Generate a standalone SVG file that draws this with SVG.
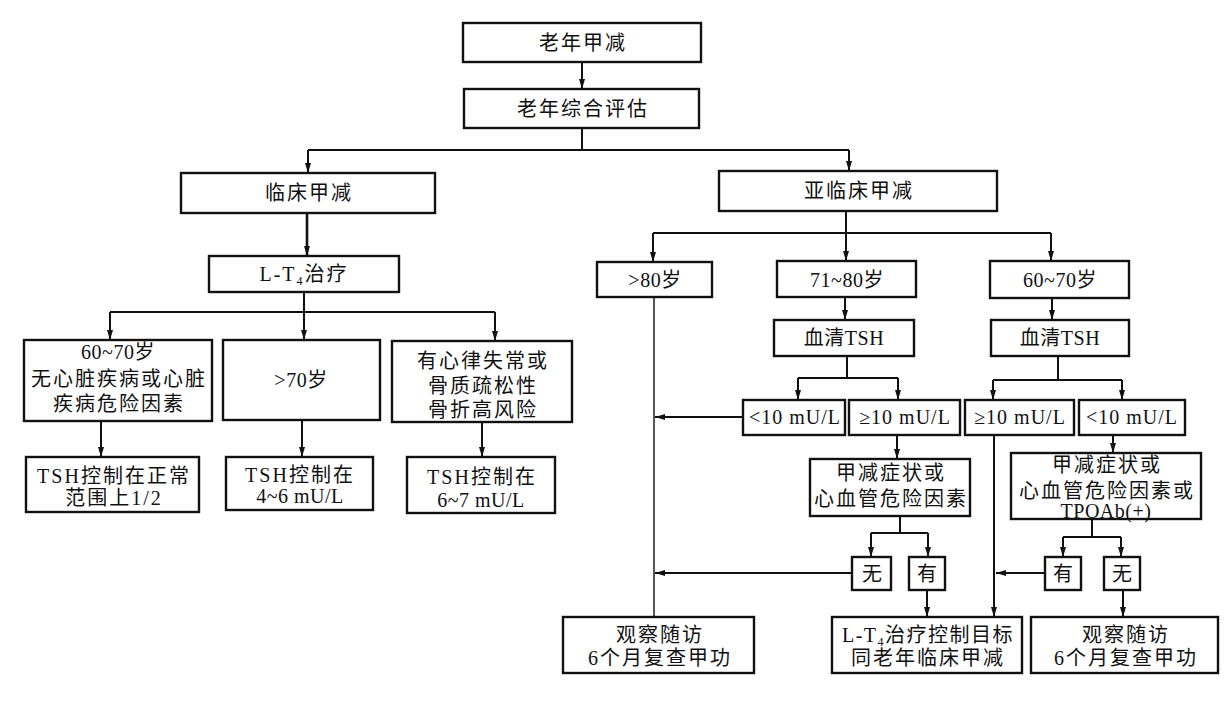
<svg xmlns="http://www.w3.org/2000/svg" width="1226" height="701" viewBox="0 0 1226 701">
<style>
.b{fill:#fff;stroke:#111;stroke-width:2.4}
.t{font-family:"Liberation Serif","Noto Sans CJK SC",serif;font-size:20px;letter-spacing:2px;text-anchor:middle;fill:#111}
.l{letter-spacing:0.5px}
.c{fill:none;stroke:#111;stroke-width:2}
.a{fill:none;stroke:#111;stroke-width:2;marker-end:url(#ah)}
.thin{fill:none;stroke:#111;stroke-width:1.4}
</style>
<defs>
<marker id="ah" markerUnits="userSpaceOnUse" markerWidth="10" markerHeight="6" refX="10" refY="3" orient="auto">
<path d="M0,0 L10,3 L0,6 z" fill="#111"/>
</marker>
</defs>
<rect width="1226" height="701" fill="#fff"/>
<g id="connectors">
<path class="a" d="M582,62 V89"/>
<path class="c" d="M582,128 V150 M308,150 H849"/>
<path class="a" d="M308,150 V173"/>
<path class="a" d="M849,150 V171"/>
<path class="a" d="M307,213 V256" style="stroke-width:2.6"/>
<path class="c" d="M304,292 V312 M110,312 H495"/>
<path class="a" d="M110,312 V340"/>
<path class="a" d="M304,312 V340"/>
<path class="a" d="M495,312 V341"/>
<path class="a" d="M101,421 V457"/>
<path class="a" d="M302,420 V457"/>
<path class="a" d="M482,422 V457"/>
<path class="c" d="M846,211 V233 M653,233 H1051"/>
<path class="a" d="M846,233 V261"/>
<path class="a" d="M653,233 V262"/>
<path class="a" d="M1051,233 V261"/>
<path class="a" d="M845,297 V320"/>
<path class="a" d="M1052,298 V320"/>
<path class="c" d="M847,356 V378 M798,378 H898"/>
<path class="a" d="M798,378 V400"/>
<path class="a" d="M898,378 V400"/>
<path class="c" d="M1058,356 V380 M993,380 H1122"/>
<path class="a" d="M993,380 V400"/>
<path class="a" d="M1122,380 V400"/>
<path class="a" d="M743,417 H655"/>
<path class="a" d="M897,435 V459"/>
<path class="a" d="M1113,435 V453"/>
<path class="a" d="M994,435 V617"/>
<path class="c" d="M900,516 V533 M871,533 H928"/>
<path class="a" d="M871,533 V557"/>
<path class="a" d="M928,533 V557"/>
<path class="c" d="M1092,519 V537 M1063,537 H1121"/>
<path class="a" d="M1063,537 V557"/>
<path class="a" d="M1121,537 V557"/>
<path class="a" d="M852,573 H655"/>
<path class="a" d="M1045,573 H996"/>
<path class="a" d="M927,590 V617"/>
<path class="a" d="M1123,590 V617"/>
<path class="thin" d="M654,297 V617"/>
</g>
<g id="n1"><rect class="b" x="463" y="23" width="238" height="39"/><text class="t" x="583" y="50">老年甲减</text></g>
<g id="n2"><rect class="b" x="464" y="89" width="235" height="39"/><text class="t" x="583" y="116">老年综合评估</text></g>
<g id="n3"><rect class="b" x="181" y="173" width="254" height="40"/><text class="t" x="309" y="200">临床甲减</text></g>
<g id="n4"><rect class="b" x="209" y="256" width="190" height="36"/><text class="t" x="304" y="281">L-T<tspan font-size="12" dy="4">4</tspan><tspan dy="-4">治疗</tspan></text></g>
<g id="n5"><rect class="b" x="24" y="340" width="188" height="81"/><text class="t l" x="118" y="359">60~70岁</text><text class="t" x="119" y="386">无心脏疾病或心脏</text><text class="t" x="119" y="411">疾病危险因素</text></g>
<g id="n6"><rect class="b" x="223" y="340" width="157" height="80"/><text class="t l" x="301" y="387">&gt;70岁</text></g>
<g id="n7"><rect class="b" x="392" y="341" width="180" height="81"/><text class="t" x="483" y="368">有心律失常或</text><text class="t" x="483" y="393">骨质疏松性</text><text class="t" x="483" y="417">骨折高风险</text></g>
<g id="n8"><rect class="b" x="26" y="457" width="173" height="55"/><text class="t" x="114" y="483">TSH控制在正常</text><text class="t" x="114" y="505">范围上1/2</text></g>
<g id="n9"><rect class="b" x="226" y="457" width="147" height="53"/><text class="t" x="300" y="482">TSH控制在</text><text class="t l" x="300" y="503">4~6 mU/L</text></g>
<g id="n10"><rect class="b" x="407" y="457" width="148" height="56"/><text class="t" x="482" y="484">TSH控制在</text><text class="t l" x="481" y="507">6~7 mU/L</text></g>
<g id="n11"><rect class="b" x="719" y="171" width="278" height="40"/><text class="t" x="859" y="198">亚临床甲减</text></g>
<g id="n12"><rect class="b" x="597" y="262" width="115" height="35"/><text class="t l" x="655" y="287">&gt;80岁</text></g>
<g id="n13"><rect class="b" x="777" y="261" width="139" height="36"/><text class="t l" x="847" y="287">71~80岁</text></g>
<g id="n14"><rect class="b" x="990" y="261" width="139" height="37"/><text class="t l" x="1060" y="287">60~70岁</text></g>
<g id="n15"><rect class="b" x="774" y="320" width="140" height="36"/><text class="t l" x="844" y="345">血清TSH</text></g>
<g id="n16"><rect class="b" x="991" y="320" width="138" height="36"/><text class="t l" x="1060" y="345">血清TSH</text></g>
<g id="n17"><rect class="b" x="743" y="400" width="102" height="35"/><text class="t" x="795" y="424" style="letter-spacing:1px">&lt;10 mU/L</text></g>
<g id="n18"><rect class="b" x="849" y="400" width="111" height="35"/><text class="t" x="905" y="424" style="letter-spacing:1px">≥10 mU/L</text></g>
<g id="n19"><rect class="b" x="965" y="400" width="109" height="35"/><text class="t" x="1020" y="424" style="letter-spacing:1px">≥10 mU/L</text></g>
<g id="n20"><rect class="b" x="1079" y="400" width="106" height="35"/><text class="t" x="1132" y="424" style="letter-spacing:1px">&lt;10 mU/L</text></g>
<g id="n21"><rect class="b" x="810" y="459" width="160" height="57"/><text class="t" x="891" y="480">甲减症状或</text><text class="t" x="891" y="506">心血管危险因素</text></g>
<g id="n22"><rect class="b" x="1011" y="453" width="190" height="66"/><text class="t" x="1107" y="472">甲减症状或</text><text class="t" x="1107" y="498">心血管危险因素或</text><text class="t l" x="1106" y="518">TPOAb(+)</text></g>
<g id="n23"><rect class="b" x="852" y="557" width="39" height="33"/><text class="t" x="873" y="581">无</text></g>
<g id="n24"><rect class="b" x="909" y="557" width="36" height="33"/><text class="t" x="928" y="581">有</text></g>
<g id="n25"><rect class="b" x="1045" y="557" width="36" height="33"/><text class="t" x="1064" y="581">有</text></g>
<g id="n26"><rect class="b" x="1104" y="557" width="36" height="33"/><text class="t" x="1123" y="581">无</text></g>
<g id="n27"><rect class="b" x="563" y="617" width="191" height="56"/><text class="t" x="660" y="642">观察随访</text><text class="t" x="660" y="665">6个月复查甲功</text></g>
<g id="n28"><rect class="b" x="832" y="617" width="190" height="56"/><text class="t" x="928" y="642" style="letter-spacing:1.5px">L-T<tspan font-size="12" dy="4">4</tspan><tspan dy="-4">治疗控制目标</tspan></text><text class="t" x="928" y="665">同老年临床甲减</text></g>
<g id="n29"><rect class="b" x="1031" y="617" width="187" height="56"/><text class="t" x="1126" y="642">观察随访</text><text class="t" x="1126" y="665">6个月复查甲功</text></g>
</svg>
